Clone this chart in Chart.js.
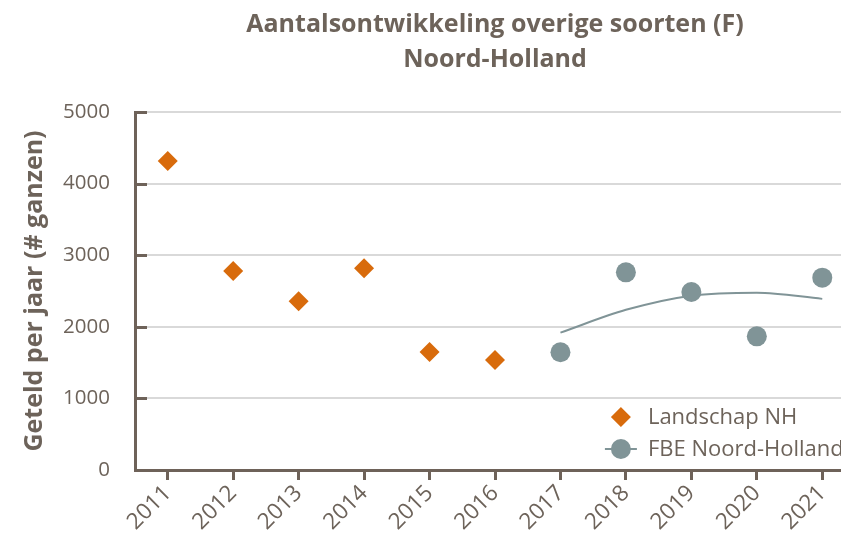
<!DOCTYPE html>
<html lang="nl">
  <head>
    <meta charset="UTF-8" />
    <title>Aantalsontwikkeling overige soorten (F)</title>
    <style>
      html, body { margin: 0; padding: 0; overflow: hidden; background: #fff; }
      canvas { display: block; }
    </style>
  </head>
  <body>
    <canvas id="myChart" width="865" height="537"></canvas>

    <script src="https://cdn.jsdelivr.net/npm/chart.js"></script>
    <script>
      const years = ["2011", "2012", "2013", "2014", "2015", "2016", "2017", "2018", "2019", "2020", "2021"];
      const landschapNH = [4316, 2779, 2356, 2817, 1648, 1536, null, null, null, null, null];
      const fbeNH = [null, null, null, null, null, null, 1644, 2761, 2486, 1867, 2686];
      // trendlijn zoals
      const fbeTrend = [null, null, null, null, null, null, 1918, 2237, 2435, 2477, 2390];
      const yTicks = [0, 1000, 2000, 3000, 4000, 5000];

      const textColor = "#6d635a";
      const axisColor = "#6e6259";
      const orange = "#d86b0c";
      const grey = "#809497";
      const font = "'Open Sans', 'Noto Sans', sans-serif";

      // y-as streepjes naar binnen
      const innerTicks = {
        id: "innerTicks",
        afterDraw(chart) {
          const c = chart.ctx, y = chart.scales.y, area = chart.chartArea;
          c.save();
          c.strokeStyle = axisColor;
          c.lineWidth = 3;
          y.ticks.forEach(t => {
            const py = Math.round(y.getPixelForValue(t.value)) + 0.5;
            c.beginPath();
            c.moveTo(area.left, py);
            c.lineTo(area.left + 12, py);
            c.stroke();
          });
          c.restore();
        }
      };

      // legenda rechtsonder in het plotvlak
      const boxLegend = {
        id: "boxLegend",
        afterDraw(chart) {
          const c = chart.ctx, area = chart.chartArea, x = chart.scales.x;
          const x0 = x.getPixelForValue(7) - 5;
          const rows = [
            { text: chart.data.datasets[0].label, y: area.bottom - 53, kind: "diamond" },
            { text: chart.data.datasets[1].label, y: area.bottom - 21, kind: "circle" }
          ];
          c.save();
          c.font = "22px " + font;
          c.textBaseline = "middle";
          c.textAlign = "left";
          rows.forEach(r => {
            if (r.kind === "diamond") {
              c.fillStyle = orange;
              c.beginPath();
              c.moveTo(x0 - 10, r.y);
              c.lineTo(x0, r.y - 10);
              c.lineTo(x0 + 10, r.y);
              c.lineTo(x0, r.y + 10);
              c.closePath();
              c.fill();
            } else {
              c.strokeStyle = grey;
              c.lineWidth = 2;
              c.beginPath();
              c.moveTo(x0 - 16, r.y);
              c.lineTo(x0 + 16, r.y);
              c.stroke();
              c.fillStyle = grey;
              c.beginPath();
              c.arc(x0, r.y, 10, 0, Math.PI * 2);
              c.fill();
            }
            c.fillStyle = textColor;
            c.fillText(r.text, x0 + 27, r.y + 1);
          });
          c.restore();
        }
      };

      const ctx = document.getElementById("myChart");
      const myChart = new Chart(ctx, {
        type: "line",
        data: {
          labels: years,
          datasets: [
            {
              label: "Landschap NH",
              data: landschapNH,
              showLine: false,
              pointStyle: "rectRot",
              pointRadius: 10,
              pointHoverRadius: 10,
              pointBackgroundColor: orange,
              pointBorderWidth: 0,
              order: 1
            },
            {
              label: "FBE Noord-Holland",
              data: fbeNH,
              showLine: false,
              pointStyle: "circle",
              pointRadius: 10,
              pointHoverRadius: 10,
              pointBackgroundColor: grey,
              pointBorderWidth: 0,
              order: 1
            },
            {
              label: "trend",
              data: fbeTrend,
              borderColor: grey,
              borderWidth: 2,
              pointRadius: 0,
              cubicInterpolationMode: "monotone",
              order: 3
            }
          ]
        },
        options: {
          responsive: false,
          animation: false,
          layout: { padding: 0 },
          plugins: {
            legend: { display: false },
            tooltip: { enabled: false },
            title: {
              display: true,
              fullSize: false,
              text: ["Aantalsontwikkeling overige soorten (F)", "Noord-Holland"],
              color: textColor,
              font: { family: font, size: 25, weight: "bold", lineHeight: 1.4 },
              padding: { top: 7, bottom: 35 }
            }
          },
          scales: {
            x: {
              type: "category",
              offset: true,
              grid: {
                display: true,
                drawOnChartArea: false,
                drawTicks: true,
                offset: false,
                tickLength: 10,
                tickWidth: 3,
                tickColor: axisColor
              },
              border: { display: true, color: axisColor, width: 3 },
              ticks: {
                color: textColor,
                font: { family: font, size: 22.5 },
                minRotation: 45,
                maxRotation: 45,
                padding: 0
              },
              afterFit(scale) {
                scale.height = 67;
                scale.paddingLeft = 0;
                scale.paddingRight = 0;
              }
            },
            y: {
              min: 0,
              max: 5000,
              afterBuildTicks(scale) { scale.ticks = yTicks.map(v => ({ value: v })); },
              grid: { color: "#d9d9d9", lineWidth: 2, drawTicks: false },
              border: { display: true, color: axisColor, width: 3 },
              ticks: {
                color: textColor,
                font: { family: font, size: 20.5 },
                padding: 25,
                callback: v => String(v)
              },
              title: {
                display: true,
                text: "Geteld per jaar (# ganzen)",
                color: textColor,
                font: { family: font, size: 25, weight: "bold" },
                padding: { top: 20, bottom: 0 }
              },
              afterFit(scale) { scale.width = 135; }
            }
          }
        },
        plugins: [innerTicks, boxLegend]
      });
    </script>
  </body>
</html>
